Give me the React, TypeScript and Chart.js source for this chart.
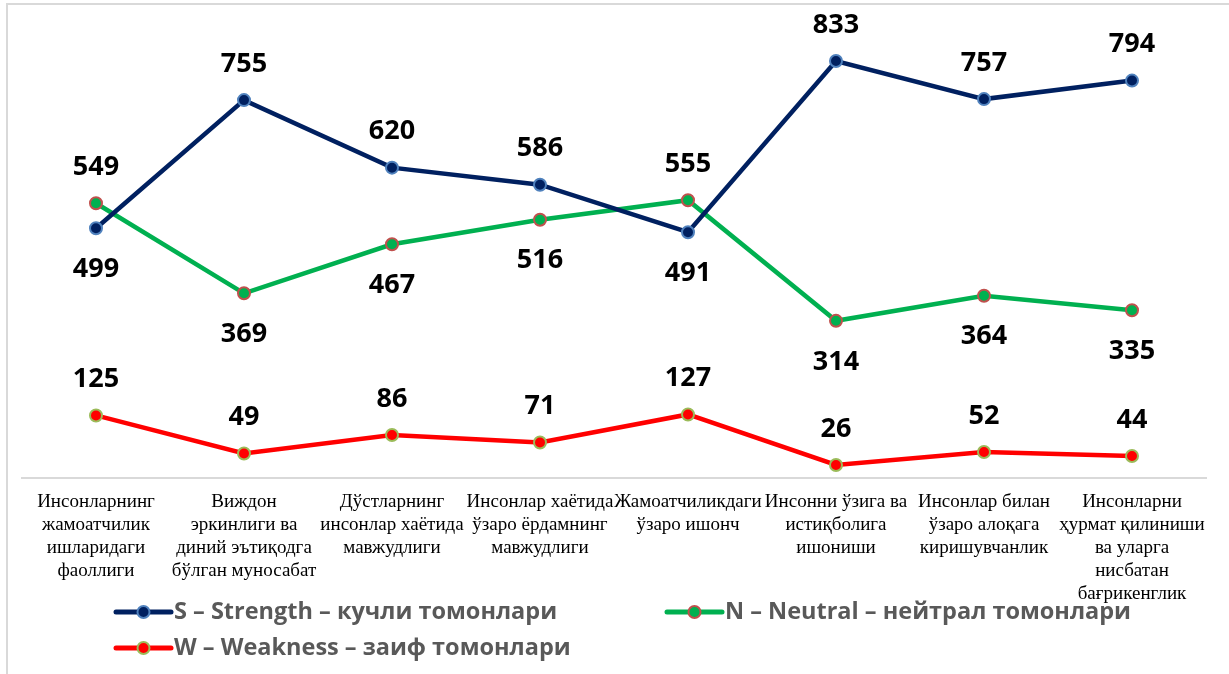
import React, { useEffect, useRef } from "react";
import { Chart, registerables } from "chart.js";

Chart.register(...registerables);

const categories: string[][] = [
  ["Инсонларнинг", "жамоатчилик", "ишларидаги", "фаоллиги"],
  ["Виждон", "эркинлиги ва", "диний эътиқодга", "бўлган муносабат"],
  ["Дўстларнинг", "инсонлар хаётида", "мавжудлиги"],
  ["Инсонлар хаётида", "ўзаро ёрдамнинг", "мавжудлиги"],
  ["Жамоатчиликдаги", "ўзаро ишонч"],
  ["Инсонни ўзига ва", "истиқболига", "ишониши"],
  ["Инсонлар билан", "ўзаро алоқага", "киришувчанлик"],
  ["Инсонларни", "ҳурмат қилиниши", "ва уларга", "нисбатан", "бағрикенглик"],
];

const strengthValues = [499, 755, 620, 586, 491, 833, 757, 794];
const neutralValues = [549, 369, 467, 516, 555, 314, 364, 335];
const weaknessValues = [125, 49, 86, 71, 127, 26, 52, 44];

const seriesNames = [
  "S – Strength – кучли томонлари",
  "N – Neutral – нейтрал томонлари",
  "W – Weakness – заиф томонлари",
];

// label placement per series: 'a' = above, 'b' = below
const strengthPlacement = ["b", "a", "a", "a", "b", "a", "a", "a"];
const neutralPlacement = ["a", "b", "b", "b", "a", "b", "b", "b"];
const weaknessPlacement = ["a", "a", "a", "a", "a", "a", "a", "a"];

const LABEL_FONT = "bold 27px 'Open Sans'";
const LEGEND_FONT = "bold 23.5px 'Open Sans'";

const dataLabelsPlugin = {
  id: "dataLabels",
  afterDatasetsDraw(chart: any) {
    const ctx = chart.ctx;
    const placements = [strengthPlacement, neutralPlacement, weaknessPlacement];
    ctx.save();
    ctx.font = LABEL_FONT;
    ctx.fillStyle = "#000000";
    ctx.textAlign = "center";
    ctx.textBaseline = "middle";
    chart.data.datasets.forEach((ds: any, di: number) => {
      const meta = chart.getDatasetMeta(di);
      meta.data.forEach((pt: any, i: number) => {
        const above = placements[di][i] === "a";
        const y = above ? pt.y - 36 : pt.y + 41;
        ctx.fillText(String(ds.data[i]), pt.x, y);
      });
    });
    ctx.restore();
  },
};

const framePlugin = {
  id: "frame",
  beforeDraw(chart: any) {
    const ctx = chart.ctx;
    ctx.save();
    ctx.fillStyle = "#ffffff";
    ctx.fillRect(0, 0, chart.width, chart.height);
    ctx.fillStyle = "#d9d9d9";
    ctx.fillRect(6, 3, 2, chart.height - 3);
    ctx.fillRect(6, 3, chart.width - 6, 2);
    ctx.restore();
  },
};

const legendPlugin = {
  id: "customLegend",
  afterDraw(chart: any) {
    const ctx = chart.ctx;
    const items = [
      { x: 116, y: 612, di: 0 },
      { x: 667, y: 612, di: 1 },
      { x: 116, y: 648, di: 2 },
    ];
    ctx.save();
    items.forEach((it) => {
      const ds = chart.data.datasets[it.di];
      ctx.strokeStyle = ds.borderColor;
      ctx.lineWidth = 5;
      ctx.lineCap = "round";
      ctx.beginPath();
      ctx.moveTo(it.x, it.y);
      ctx.lineTo(it.x + 55, it.y);
      ctx.stroke();
      ctx.beginPath();
      ctx.arc(it.x + 27.5, it.y, 6, 0, Math.PI * 2);
      ctx.fillStyle = ds.pointBackgroundColor;
      ctx.fill();
      ctx.lineWidth = 2;
      ctx.strokeStyle = ds.pointBorderColor;
      ctx.stroke();
      ctx.font = LEGEND_FONT;
      ctx.fillStyle = "#595959";
      ctx.textAlign = "left";
      ctx.textBaseline = "middle";
      ctx.fillText(ds.label, it.x + 58, it.y);
    });
    ctx.restore();
  },
};

export default function App() {
  const ref = useRef<HTMLCanvasElement | null>(null);

  useEffect(() => {
    if (!ref.current) return;
    const mk = (label: string, data: number[], line: string, fill: string, border: string) => ({
      label,
      data,
      borderColor: line,
      backgroundColor: line,
      borderWidth: 4.5,
      pointRadius: 6,
      pointHoverRadius: 6,
      pointBackgroundColor: fill,
      pointBorderColor: border,
      pointBorderWidth: 2,
      tension: 0,
    });
    const chart = new Chart(ref.current, {
      type: "line",
      data: {
        labels: categories,
        datasets: [
          mk(seriesNames[0], strengthValues, "#002060", "#002060", "#4f81bd"),
          mk(seriesNames[1], neutralValues, "#00b050", "#00b050", "#c0504d"),
          mk(seriesNames[2], weaknessValues, "#ff0000", "#ff0000", "#9bbb59"),
        ],
      },
      options: {
        responsive: false,
        animation: false,
        layout: { padding: { left: 22, right: 23, top: 10, bottom: 66 } },
        plugins: {
          legend: { display: false },
          tooltip: { enabled: false },
        },
        scales: {
          x: {
            offset: true,
            grid: { display: false, drawTicks: false },
            border: { display: true, color: "#d9d9d9", width: 2 },
            afterFit: (scale: any) => {
              scale.height = 130;
            },
            ticks: {
              autoSkip: false,
              maxRotation: 0,
              minRotation: 0,
              padding: 13,
              color: "#000000",
              font: { family: "'Liberation Serif'", size: 19, lineHeight: 1.2 },
            },
          },
          y: {
            display: false,
            min: 0,
            max: 935,
          },
        },
      },
      plugins: [framePlugin, dataLabelsPlugin, legendPlugin],
    });
    return () => chart.destroy();
  }, []);

  return (
    <div style={{ position: "fixed", left: 0, top: 0, width: 1229, height: 674, background: "#fff" }}>
      <canvas ref={ref} width={1229} height={674} />
    </div>
  );
}
